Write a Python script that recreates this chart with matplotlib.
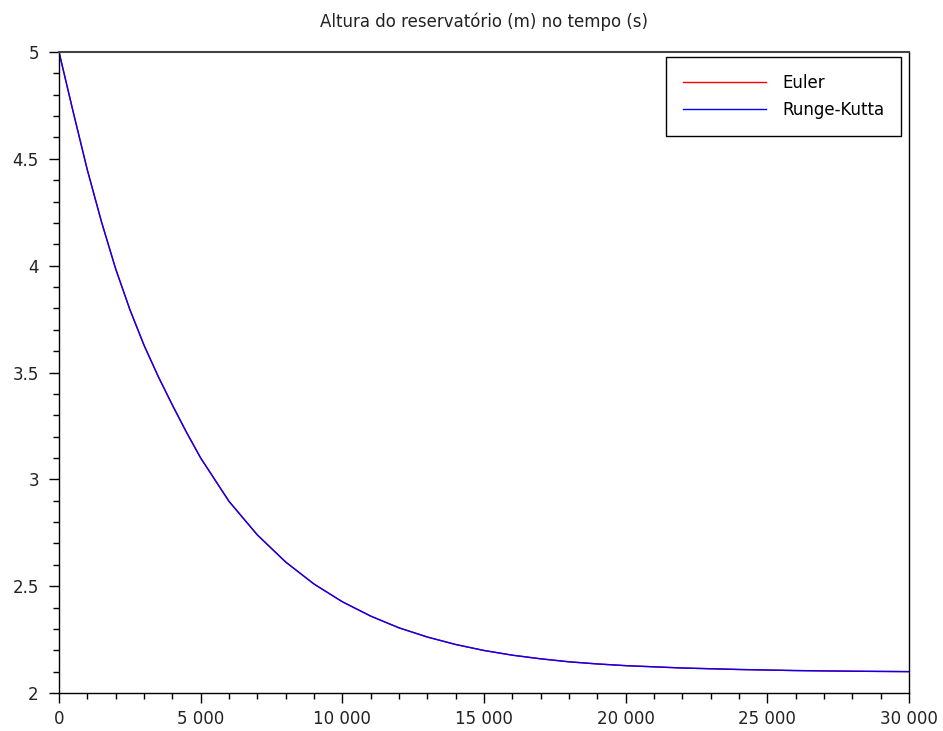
import matplotlib
matplotlib.use("Agg")
import matplotlib.pyplot as plt
from matplotlib.ticker import MultipleLocator, FuncFormatter

plt.rcParams['font.family'] = ['DejaVu Sans']

# Data (time in s, height in m)
t_s = [0, 500, 1000, 1500, 2000, 2500, 3000, 3500, 4000, 4500, 5000, 6000,
       7000, 8000, 9000, 10000, 11000, 12000, 13000, 14000, 15000, 16000,
       17000, 18000, 19000, 20000, 22000, 24000, 26000, 28000, 30000]
h_euler = [5.000, 4.720, 4.448, 4.205, 3.985, 3.795, 3.628, 3.482, 3.348, 3.220,
           3.100, 2.897, 2.740, 2.613, 2.510, 2.427, 2.360, 2.305, 2.262, 2.227,
           2.199, 2.177, 2.160, 2.146, 2.136, 2.128, 2.117, 2.110, 2.105, 2.102,
           2.100]
h_rk = [5.000, 4.720, 4.448, 4.205, 3.985, 3.795, 3.628, 3.482, 3.348, 3.220,
        3.100, 2.897, 2.740, 2.613, 2.510, 2.427, 2.360, 2.305, 2.262, 2.227,
        2.199, 2.177, 2.160, 2.146, 2.136, 2.128, 2.117, 2.110, 2.105, 2.102,
        2.100]

title = "Altura do reservatório (m) no tempo (s)"
labels = ["Euler", "Runge-Kutta"]

fig = plt.figure(figsize=(9.43, 7.31), dpi=100)
ax = fig.add_axes([59/943, 1-693/731, 850/943, 641/731])

ax.plot(t_s, h_euler, color='#ff0000', lw=1.0, label=labels[0])
ax.plot(t_s, h_rk, color='#0000ff', lw=1.0, label=labels[1])

ax.set_xlim(0, 30000)
ax.set_ylim(2, 5)
ax.xaxis.set_major_locator(MultipleLocator(5000))
ax.xaxis.set_minor_locator(MultipleLocator(1000))
ax.yaxis.set_major_locator(MultipleLocator(0.5))
ax.yaxis.set_minor_locator(MultipleLocator(0.1))

def fmt_x(v, pos):
    return f"{int(round(v)):,}".replace(",", " ")

def fmt_y(v, pos):
    s = f"{v:.1f}"
    return s[:-2] if s.endswith(".0") else s

ax.xaxis.set_major_formatter(FuncFormatter(fmt_x))
ax.yaxis.set_major_formatter(FuncFormatter(fmt_y))

ax.tick_params(which='both', direction='out', top=False, right=False,
               color='black', width=1.0, labelsize=12, labelcolor='#222222')
ax.tick_params(which='major', length=7.5, pad=7)
ax.tick_params(axis='x', which='major', pad=5)
ax.tick_params(which='minor', length=4)

for side in ['left', 'bottom', 'right']:
    ax.spines[side].set_color('black')
    ax.spines[side].set_linewidth(1.0)
ax.spines['top'].set_color('#444444')
ax.spines['top'].set_linewidth(1.5)

ax.set_title(title, fontsize=12, pad=18, color='#222222')

leg = ax.legend(loc='upper right', bbox_to_anchor=(0.9906, 0.9922),
                borderaxespad=0, fontsize=12, handlelength=5.0,
                handletextpad=0.95, labelspacing=0.56, fancybox=False,
                framealpha=1, edgecolor='black', borderpad=1.0)
leg.get_frame().set_linewidth(1.0)

fig.savefig("out.png", dpi=100)
